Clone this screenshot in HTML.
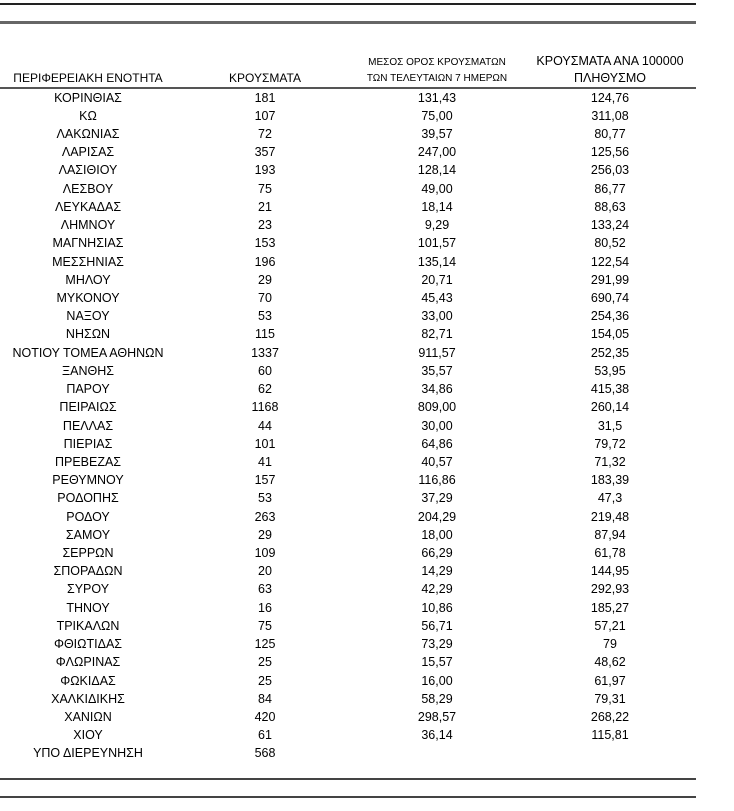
<!DOCTYPE html>
<html><head><meta charset="utf-8"><style>
body{margin:0;width:734px;height:811px;background:#fff;position:relative;overflow:hidden;font-family:"Liberation Sans Narrow","Liberation Sans","DejaVu Sans",sans-serif;color:#000}
.l{position:absolute;left:0;width:696px;background:#333}
.r{position:absolute;left:0;width:700px;height:18px;font-size:12.5px;line-height:18px}
.r span{position:absolute;transform:translateX(-50%);white-space:nowrap}
.h{position:absolute;font-size:12px;text-align:center;transform:translateX(-50%);white-space:nowrap;line-height:15px}
</style></head><body>
<div class="l" style="top:3px;height:2px;background:#222"></div>
<div class="l" style="top:21px;height:3px;background:#666"></div>
<div class="h" style="left:88px;top:71px">ΠΕΡΙΦΕΡΕΙΑΚΗ ΕΝΟΤΗΤΑ</div>
<div class="h" style="left:265px;top:71px">ΚΡΟΥΣΜΑΤΑ</div>
<div class="h" style="left:437px;top:55px;font-size:10px;line-height:16px">ΜΕΣΟΣ ΟΡΟΣ ΚΡΟΥΣΜΑΤΩΝ<br>ΤΩΝ ΤΕΛΕΥΤΑΙΩΝ 7 ΗΜΕΡΩΝ</div>
<div class="h" style="left:610px;top:53px;font-size:12.5px;line-height:17px">ΚΡΟΥΣΜΑΤΑ ΑΝΑ 100000<br>ΠΛΗΘΥΣΜΟ</div>
<div class="l" style="top:87px;height:2px;background:#555"></div>
<div class="l" style="top:778px;height:2px;background:#444"></div>
<div class="l" style="top:796px;height:2px;background:#444"></div>
<div>
<div class="r" style="top:88.5px"><span style="left:88px">ΚΟΡΙΝΘΙΑΣ</span><span style="left:265px">181</span><span style="left:437px">131,43</span><span style="left:610px">124,76</span></div>
<div class="r" style="top:106.7px"><span style="left:88px">ΚΩ</span><span style="left:265px">107</span><span style="left:437px">75,00</span><span style="left:610px">311,08</span></div>
<div class="r" style="top:124.9px"><span style="left:88px">ΛΑΚΩΝΙΑΣ</span><span style="left:265px">72</span><span style="left:437px">39,57</span><span style="left:610px">80,77</span></div>
<div class="r" style="top:143.2px"><span style="left:88px">ΛΑΡΙΣΑΣ</span><span style="left:265px">357</span><span style="left:437px">247,00</span><span style="left:610px">125,56</span></div>
<div class="r" style="top:161.4px"><span style="left:88px">ΛΑΣΙΘΙΟΥ</span><span style="left:265px">193</span><span style="left:437px">128,14</span><span style="left:610px">256,03</span></div>
<div class="r" style="top:179.6px"><span style="left:88px">ΛΕΣΒΟΥ</span><span style="left:265px">75</span><span style="left:437px">49,00</span><span style="left:610px">86,77</span></div>
<div class="r" style="top:197.8px"><span style="left:88px">ΛΕΥΚΑΔΑΣ</span><span style="left:265px">21</span><span style="left:437px">18,14</span><span style="left:610px">88,63</span></div>
<div class="r" style="top:216px"><span style="left:88px">ΛΗΜΝΟΥ</span><span style="left:265px">23</span><span style="left:437px">9,29</span><span style="left:610px">133,24</span></div>
<div class="r" style="top:234.3px"><span style="left:88px">ΜΑΓΝΗΣΙΑΣ</span><span style="left:265px">153</span><span style="left:437px">101,57</span><span style="left:610px">80,52</span></div>
<div class="r" style="top:252.5px"><span style="left:88px">ΜΕΣΣΗΝΙΑΣ</span><span style="left:265px">196</span><span style="left:437px">135,14</span><span style="left:610px">122,54</span></div>
<div class="r" style="top:270.7px"><span style="left:88px">ΜΗΛΟΥ</span><span style="left:265px">29</span><span style="left:437px">20,71</span><span style="left:610px">291,99</span></div>
<div class="r" style="top:288.9px"><span style="left:88px">ΜΥΚΟΝΟΥ</span><span style="left:265px">70</span><span style="left:437px">45,43</span><span style="left:610px">690,74</span></div>
<div class="r" style="top:307.1px"><span style="left:88px">ΝΑΞΟΥ</span><span style="left:265px">53</span><span style="left:437px">33,00</span><span style="left:610px">254,36</span></div>
<div class="r" style="top:325.4px"><span style="left:88px">ΝΗΣΩΝ</span><span style="left:265px">115</span><span style="left:437px">82,71</span><span style="left:610px">154,05</span></div>
<div class="r" style="top:343.6px"><span style="left:88px">ΝΟΤΙΟΥ ΤΟΜΕΑ ΑΘΗΝΩΝ</span><span style="left:265px">1337</span><span style="left:437px">911,57</span><span style="left:610px">252,35</span></div>
<div class="r" style="top:361.8px"><span style="left:88px">ΞΑΝΘΗΣ</span><span style="left:265px">60</span><span style="left:437px">35,57</span><span style="left:610px">53,95</span></div>
<div class="r" style="top:380px"><span style="left:88px">ΠΑΡΟΥ</span><span style="left:265px">62</span><span style="left:437px">34,86</span><span style="left:610px">415,38</span></div>
<div class="r" style="top:398.2px"><span style="left:88px">ΠΕΙΡΑΙΩΣ</span><span style="left:265px">1168</span><span style="left:437px">809,00</span><span style="left:610px">260,14</span></div>
<div class="r" style="top:416.5px"><span style="left:88px">ΠΕΛΛΑΣ</span><span style="left:265px">44</span><span style="left:437px">30,00</span><span style="left:610px">31,5</span></div>
<div class="r" style="top:434.7px"><span style="left:88px">ΠΙΕΡΙΑΣ</span><span style="left:265px">101</span><span style="left:437px">64,86</span><span style="left:610px">79,72</span></div>
<div class="r" style="top:452.9px"><span style="left:88px">ΠΡΕΒΕΖΑΣ</span><span style="left:265px">41</span><span style="left:437px">40,57</span><span style="left:610px">71,32</span></div>
<div class="r" style="top:471.1px"><span style="left:88px">ΡΕΘΥΜΝΟΥ</span><span style="left:265px">157</span><span style="left:437px">116,86</span><span style="left:610px">183,39</span></div>
<div class="r" style="top:489.3px"><span style="left:88px">ΡΟΔΟΠΗΣ</span><span style="left:265px">53</span><span style="left:437px">37,29</span><span style="left:610px">47,3</span></div>
<div class="r" style="top:507.6px"><span style="left:88px">ΡΟΔΟΥ</span><span style="left:265px">263</span><span style="left:437px">204,29</span><span style="left:610px">219,48</span></div>
<div class="r" style="top:525.8px"><span style="left:88px">ΣΑΜΟΥ</span><span style="left:265px">29</span><span style="left:437px">18,00</span><span style="left:610px">87,94</span></div>
<div class="r" style="top:544px"><span style="left:88px">ΣΕΡΡΩΝ</span><span style="left:265px">109</span><span style="left:437px">66,29</span><span style="left:610px">61,78</span></div>
<div class="r" style="top:562.2px"><span style="left:88px">ΣΠΟΡΑΔΩΝ</span><span style="left:265px">20</span><span style="left:437px">14,29</span><span style="left:610px">144,95</span></div>
<div class="r" style="top:580.4px"><span style="left:88px">ΣΥΡΟΥ</span><span style="left:265px">63</span><span style="left:437px">42,29</span><span style="left:610px">292,93</span></div>
<div class="r" style="top:598.7px"><span style="left:88px">ΤΗΝΟΥ</span><span style="left:265px">16</span><span style="left:437px">10,86</span><span style="left:610px">185,27</span></div>
<div class="r" style="top:616.9px"><span style="left:88px">ΤΡΙΚΑΛΩΝ</span><span style="left:265px">75</span><span style="left:437px">56,71</span><span style="left:610px">57,21</span></div>
<div class="r" style="top:635.1px"><span style="left:88px">ΦΘΙΩΤΙΔΑΣ</span><span style="left:265px">125</span><span style="left:437px">73,29</span><span style="left:610px">79</span></div>
<div class="r" style="top:653.3px"><span style="left:88px">ΦΛΩΡΙΝΑΣ</span><span style="left:265px">25</span><span style="left:437px">15,57</span><span style="left:610px">48,62</span></div>
<div class="r" style="top:671.5px"><span style="left:88px">ΦΩΚΙΔΑΣ</span><span style="left:265px">25</span><span style="left:437px">16,00</span><span style="left:610px">61,97</span></div>
<div class="r" style="top:689.8px"><span style="left:88px">ΧΑΛΚΙΔΙΚΗΣ</span><span style="left:265px">84</span><span style="left:437px">58,29</span><span style="left:610px">79,31</span></div>
<div class="r" style="top:708px"><span style="left:88px">ΧΑΝΙΩΝ</span><span style="left:265px">420</span><span style="left:437px">298,57</span><span style="left:610px">268,22</span></div>
<div class="r" style="top:726.2px"><span style="left:88px">ΧΙΟΥ</span><span style="left:265px">61</span><span style="left:437px">36,14</span><span style="left:610px">115,81</span></div>
<div class="r" style="top:744.4px"><span style="left:88px">ΥΠΟ ΔΙΕΡΕΥΝΗΣΗ</span><span style="left:265px">568</span></div>
</div>
</body></html>
